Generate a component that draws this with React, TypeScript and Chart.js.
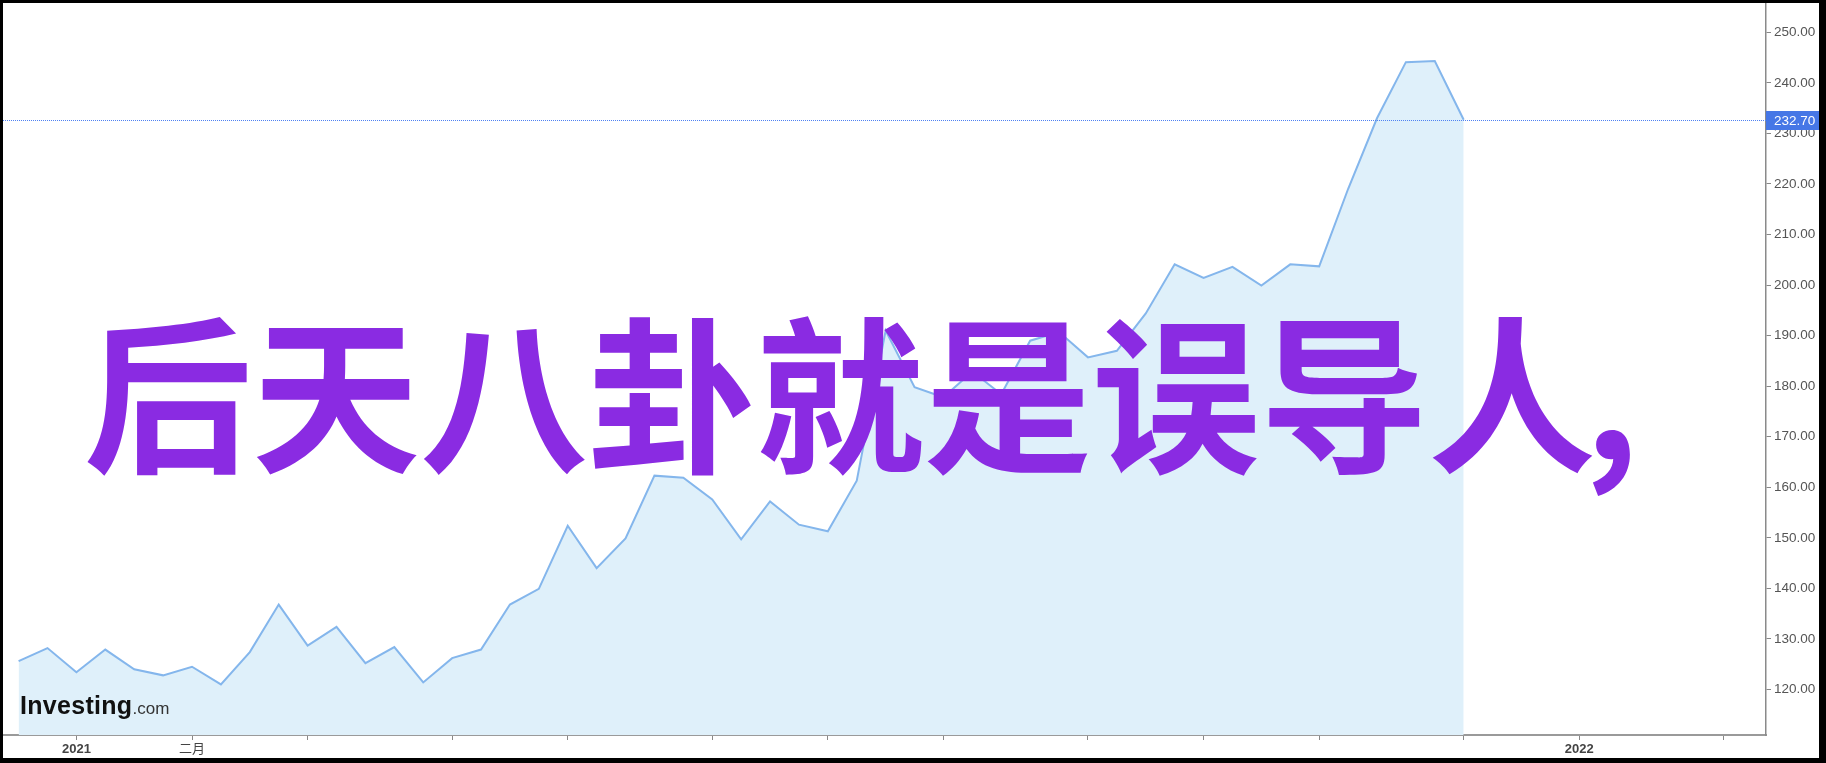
import React, { useEffect, useRef } from "react";
import { Chart, registerables } from "chart.js";

Chart.register(...registerables);

// Weekly closing prices (one point per week)
const prices: number[] = [
  125.6, 128.2, 123.4, 127.9, 124.0, 122.8, 124.5, 121.0, 127.4, 136.8,
  128.7, 132.4, 125.2, 128.4, 121.4, 126.2, 127.9, 136.8, 139.9, 152.4,
  144.0, 149.9, 162.3, 161.9, 157.6, 149.7, 157.2, 152.6, 151.3, 161.3,
  191.0, 179.8, 177.8, 182.9, 178.4, 189.0, 190.7, 185.7, 187.0, 194.4,
  204.1, 201.4, 203.6, 199.9, 204.1, 203.7, 219.0, 233.0, 244.1, 244.3,
  232.7,
];

// x-axis ticks (week index of each month start) and their labels
const xTickIndex: number[] = [2, 6, 10, 15, 19, 24, 28, 32, 37, 41, 45, 50, 54, 59];
const xTickLabels: string[] = ["2021", "二月", "", "", "", "", "", "", "", "", "", "", "2022", ""];
const boldLabels: string[] = ["2021", "2022"];

const yTickValues: number[] = [120, 130, 140, 150, 160, 170, 180, 190, 200, 210, 220, 230, 240, 250];

const lastPrice = prices[prices.length - 1];

const overlayTitle = "后天八卦就是误导人";
const overlayComma = ",";

const lastPricePlugin = {
  id: "lastPriceLine",
  afterDatasetsDraw(chart: any) {
    const { ctx, chartArea } = chart;
    const y = Math.round(chart.scales.y.getPixelForValue(lastPrice)) + 0.5;
    ctx.save();
    ctx.strokeStyle = "#4f82f2";
    ctx.lineWidth = 1;
    ctx.setLineDash([1, 1]);
    ctx.beginPath();
    ctx.moveTo(chartArea.left - 1, y);
    ctx.lineTo(chartArea.right, y);
    ctx.stroke();
    ctx.restore();
  },
  afterDraw(chart: any) {
    const { ctx } = chart;
    const ys = chart.scales.y;
    const y = chart.scales.y.getPixelForValue(lastPrice);
    ctx.save();
    ctx.fillStyle = "#4677e6";
    ctx.fillRect(ys.left, Math.round(y) - 9, chart.width - ys.left, 19);
    ctx.fillStyle = "#ffffff";
    ctx.font = "13.5px Arial, 'Liberation Sans', sans-serif";
    ctx.textBaseline = "middle";
    ctx.textAlign = "left";
    ctx.fillText(lastPrice.toFixed(2), ys.left + 8, Math.round(y) + 1);
    ctx.restore();
  },
};

function PriceChart() {
  const ref = useRef<HTMLCanvasElement | null>(null);
  useEffect(() => {
    if (!ref.current) return;
    const chart = new Chart(ref.current, {
      type: "line",
      data: {
        datasets: [
          {
            data: prices.map((v, i) => ({ x: i, y: v })),
            borderColor: "#84b6ec",
            borderWidth: 2,
            backgroundColor: "#dff0fa",
            fill: "start",
            pointRadius: 0,
            tension: 0,
          },
        ],
      },
      options: {
        animation: false,
        responsive: false,
        devicePixelRatio: 1,
        layout: { padding: { left: 1, top: 1, right: 0, bottom: 0 } },
        plugins: {
          legend: { display: false },
          tooltip: { enabled: false },
        },
        scales: {
          x: {
            type: "linear",
            min: -0.505,
            max: 60.46,
            afterBuildTicks: (axis: any) => {
              axis.ticks = xTickIndex.map((v) => ({ value: v }));
            },
            afterFit: (scale: any) => {
              scale.height = 23;
              scale.paddingLeft = 0;
              scale.paddingRight = 0;
              scale.paddingTop = 0;
              scale.paddingBottom = 0;
            },
            grid: {
              display: true,
              drawOnChartArea: false,
              drawTicks: true,
              tickLength: 5,
              color: "#888888",
              lineWidth: 1,
            },
            border: { display: true, color: "#9a9a9a", width: 2 },
            ticks: {
              autoSkip: false,
              maxRotation: 0,
              padding: 2,
              color: "#444444",
              font: (ctx: any) => {
                const lbl = ctx.tick ? ctx.tick.label : "";
                return {
                  size: 13,
                  family: "Arial, 'Liberation Sans', 'Noto Sans CJK SC', sans-serif",
                  weight: boldLabels.includes(lbl) ? "bold" : "normal",
                };
              },
              callback: (value: any) => {
                const i = xTickIndex.indexOf(Number(value));
                return i >= 0 ? xTickLabels[i] : "";
              },
            },
          },
          y: {
            type: "linear",
            position: "right",
            min: 111.0,
            max: 255.6,
            afterBuildTicks: (axis: any) => {
              axis.ticks = yTickValues.map((v) => ({ value: v }));
            },
            afterFit: (scale: any) => {
              scale.width = 53;
              scale.paddingLeft = 0;
              scale.paddingRight = 0;
              scale.paddingTop = 0;
              scale.paddingBottom = 0;
            },
            grid: {
              display: true,
              drawOnChartArea: false,
              drawTicks: true,
              tickLength: 5,
              color: "#888888",
              lineWidth: 1,
            },
            border: { display: true, color: "#8a8a8a", width: 1.5 },
            ticks: {
              padding: 3,
              color: "#555555",
              font: { size: 13.5, family: "Arial, 'Liberation Sans', sans-serif" },
              callback: (value: any) => Number(value).toFixed(2),
            },
          },
        },
      },
      plugins: [lastPricePlugin],
    });
    return () => chart.destroy();
  }, []);
  return <canvas ref={ref} width={1816} height={755} style={{ display: "block", width: 1816, height: 755 }} />;
}

export default function App() {
  return (
    <div
      style={{
        position: "fixed",
        left: 0,
        top: 0,
        width: 1826,
        height: 763,
        background: "#000",
        overflow: "hidden",
      }}
    >
      <div
        style={{
          position: "absolute",
          left: 3,
          top: 3,
          width: 1816,
          height: 755,
          background: "#fff",
        }}
      >
        <PriceChart />
      </div>
      <div
        style={{
          position: "absolute",
          left: 20,
          top: 693,
          fontFamily: "Arial, 'Liberation Sans', sans-serif",
          fontSize: 25,
          lineHeight: "25px",
          whiteSpace: "nowrap",
          color: "#111",
        }}
      >
        <span style={{ fontWeight: "bold", letterSpacing: 0.3 }}>Investing</span>
        <span style={{ fontSize: 17, color: "#333" }}>.com</span>
      </div>
      <div
        style={{
          position: "absolute",
          left: 84,
          top: 303,
          fontFamily: "'Noto Sans CJK SC', sans-serif",
          fontWeight: 700,
          fontSize: 168,
          lineHeight: "168px",
          color: "#8a2be2",
          whiteSpace: "nowrap",
        }}
      >
        {overlayTitle}
        <span style={{ marginLeft: -12 }}>{overlayComma}</span>
      </div>
    </div>
  );
}
